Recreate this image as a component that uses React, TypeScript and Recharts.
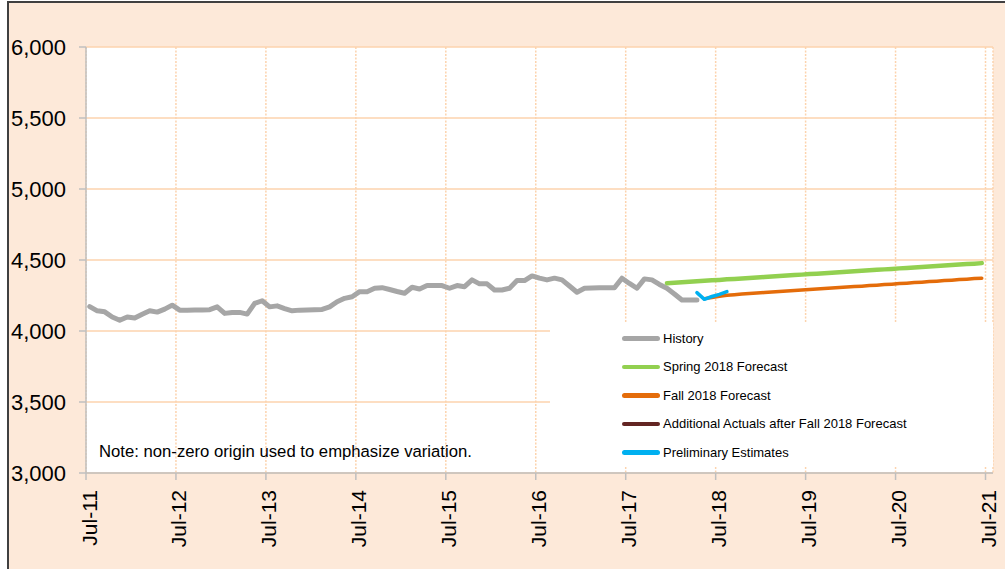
import { LineChart, Line, XAxis, YAxis, CartesianGrid } from 'recharts';

// month index 0 = Jul-11, points sit mid-month
const tickLabels = ['Jul-11', 'Jul-12', 'Jul-13', 'Jul-14', 'Jul-15', 'Jul-16', 'Jul-17', 'Jul-18', 'Jul-19', 'Jul-20', 'Jul-21'];
const yTicks = [3000, 3500, 4000, 4500, 5000, 5500, 6000];

const history = [
  4172, 4142, 4135, 4099, 4076, 4099, 4092, 4118, 4142, 4133, 4154, 4182,
  4147, 4147, 4148, 4148, 4150, 4170, 4124, 4131, 4131, 4119, 4195, 4213,
  4170, 4177, 4158, 4142, 4147, 4148, 4150, 4152, 4170, 4206, 4230, 4241,
  4277, 4277, 4301, 4305, 4292, 4278, 4266, 4308, 4296, 4320, 4320, 4320,
  4301, 4320, 4312, 4360, 4332, 4332, 4289, 4289, 4301, 4355, 4355, 4388,
  4372, 4360, 4372, 4360, 4317, 4273, 4301, 4303, 4305, 4305, 4305, 4372,
  4335, 4301, 4367, 4360, 4328, 4301, 4261, 4218, 4218, 4218,
];
const historyStart = 0;

const spring2018 = [
  4337, 4340, 4344, 4347, 4350, 4354, 4357, 4360, 4364, 4367, 4370, 4374,
  4377, 4380, 4384, 4387, 4391, 4394, 4397, 4401, 4404, 4407, 4411, 4414,
  4417, 4421, 4424, 4427, 4431, 4434, 4437, 4441, 4444, 4448, 4451, 4454,
  4458, 4461, 4464, 4468, 4471, 4474, 4478,
];
const springStart = 77;

const fall2018 = [
  4228, 4236, 4244, 4251, 4256, 4260, 4264, 4267, 4271, 4274, 4278, 4281,
  4285, 4288, 4292, 4295, 4299, 4302, 4306, 4309, 4313, 4316, 4320, 4323,
  4327, 4330, 4334, 4337, 4341, 4344, 4348, 4351, 4355, 4358, 4362, 4365,
  4369, 4372,
];
const fallStart = 82;

const additionalActuals: number[] = [];
const additionalStart = 82;

const preliminary = [4270, 4223, 4243, 4258, 4277];
const preliminaryStart = 81;

const series = [
  { key: 'history', name: 'History', color: '#a6a6a6', width: 5 },
  { key: 'spring', name: 'Spring 2018 Forecast', color: '#92d050', width: 4.5 },
  { key: 'fall', name: 'Fall 2018 Forecast', color: '#e46c0a', width: 3.5 },
  { key: 'additional', name: 'Additional Actuals after Fall 2018 Forecast', color: '#632523', width: 4 },
  { key: 'prelim', name: 'Preliminary Estimates', color: '#00b0f0', width: 3.5 },
];

const pick = (arr: number[], start: number, k: number) => {
  const v = arr[k - start];
  return v === undefined ? null : v;
};

const data = Array.from({ length: 120 }, (_, k) => ({
  t: k + 0.5,
  history: pick(history, historyStart, k),
  spring: pick(spring2018, springStart, k),
  fall: pick(fall2018, fallStart, k),
  additional: pick(additionalActuals, additionalStart, k),
  prelim: pick(preliminary, preliminaryStart, k),
}));

const FONT = '"Liberation Sans", Arial, sans-serif';
const GRID = '#fcd3ae';
const AXIS = '#bfbfbf';

const XTick = ({ x, y, payload }: any) => (
  <text
    transform={`translate(${x},${y}) rotate(-90)`}
    textAnchor="end"
    dy={10.5}
    fontSize={21}
    fontFamily={FONT}
    fill="#000"
  >
    {tickLabels[Math.round(payload.value / 12)]}
  </text>
);

export default function App() {
  return (
    <div style={{ position: 'absolute', left: 0, top: 0, width: 1005, height: 569, background: '#fff', overflow: 'hidden' }}>
      <div
        style={{
          position: 'absolute',
          left: 7,
          top: 1,
          width: 998,
          height: 568,
          boxSizing: 'border-box',
          background: '#fde9d9',
          borderTop: '2px solid #404040',
          borderLeft: '2px solid #404040',
        }}
      />
      <div style={{ position: 'absolute', left: 0, top: 0 }}>
        <LineChart width={1005} height={569} data={data} margin={{ top: 47, right: 12, left: 10, bottom: 6 }}>
          <CartesianGrid fill="#fff" stroke={GRID} strokeWidth={1.5} vertical={false} />
          <CartesianGrid stroke={GRID} strokeWidth={1.5} horizontal={false} strokeDasharray="2 1.5" />
          <XAxis
            type="number"
            dataKey="t"
            domain={[0, 121]}
            ticks={[0, 12, 24, 36, 48, 60, 72, 84, 96, 108, 120]}
            height={90}
            tickSize={7}
            tickMargin={10}
            axisLine={{ stroke: AXIS, strokeWidth: 1.5 }}
            tickLine={{ stroke: AXIS, strokeWidth: 1.5 }}
            tick={<XTick />}
            interval={0}
          />
          <YAxis
            domain={[3000, 6000]}
            ticks={yTicks}
            width={76}
            tickSize={7}
            tickMargin={13}
            axisLine={{ stroke: AXIS, strokeWidth: 1.5 }}
            tickLine={{ stroke: AXIS, strokeWidth: 1.5 }}
            tick={{ fontSize: 22, fontFamily: FONT, fill: '#000' }}
            tickFormatter={(v: number) => v.toLocaleString('en-US')}
            interval={0}
          />
          {series.map((s) => (
            <Line
              key={s.key}
              type="linear"
              dataKey={s.key}
              name={s.name}
              stroke={s.color}
              strokeWidth={s.width}
              strokeLinejoin="round"
              strokeLinecap="round"
              dot={false}
              activeDot={false}
              isAnimationActive={false}
            />
          ))}
        </LineChart>
      </div>
      <div
        style={{
          position: 'absolute',
          left: 99,
          top: 442,
          fontFamily: FONT,
          fontSize: 16.7,
          lineHeight: '20px',
          color: '#000',
          whiteSpace: 'nowrap',
        }}
      >
        Note: non-zero origin used to emphasize variation.
      </div>
      <div
        style={{
          position: 'absolute',
          left: 550,
          top: 322,
          width: 443,
          height: 145,
          background: '#fff',
          paddingTop: 2,
          boxSizing: 'border-box',
          fontFamily: FONT,
          fontSize: 13,
          color: '#000',
        }}
      >
        {series.map((s) => (
          <div key={s.key} style={{ display: 'flex', alignItems: 'center', height: 28.5 }}>
            <div style={{ marginLeft: 72, width: 38, height: 4.5, borderRadius: 2.5, background: s.color }} />
            <span style={{ marginLeft: 3, whiteSpace: 'nowrap' }}>{s.name}</span>
          </div>
        ))}
      </div>
    </div>
  );
}
